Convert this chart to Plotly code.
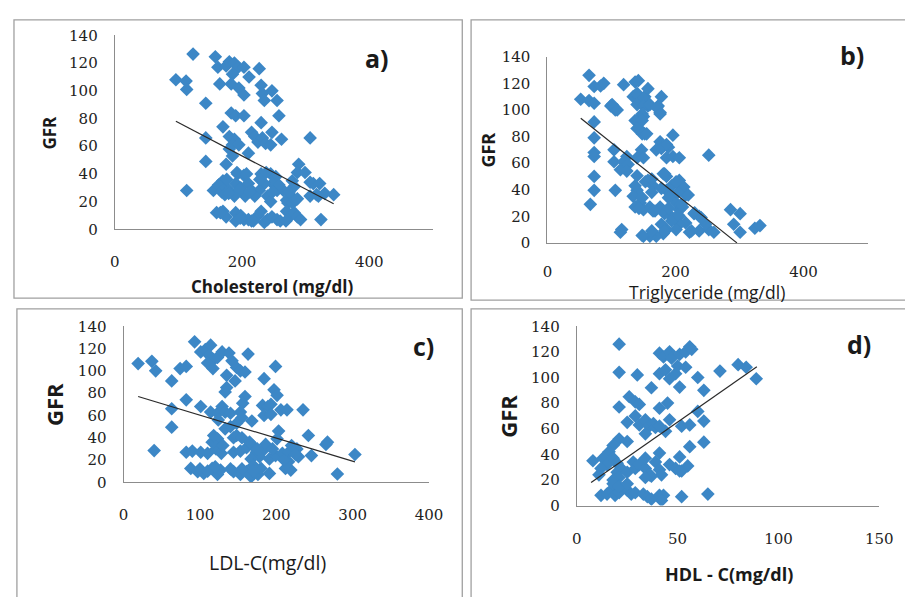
import plotly.graph_objects as go

# ---------------- data ----------------
chol_x = [123,158,162,175,180,188,194,203,211,227,96,112,113,165,185,183,195,203,230,232,235,247,255,143,
          183,190,203,230,247,258,170,143,180,188,185,195,215,220,225,232,237,245,262,307,210,180,185,143,175,
          289,287,193,203,170,113,344,324,307,312,307,317,279,282,277,265,270,272,245,253,248,255,230,235,227,
          240,245,210,215,220,205,190,198,180,188,155,163,168,175,173,160,170,175,190,198,203,210,215,225,230,
          235,240,247,255,260,190,270,277,282,287,292,279,284,197,212,228,238,258,248,274,287,299,322,320,330,
          176,192,207,179,166,197,218,269]
chol_gfr = [126.5,124.6,117,118,121,120,117,117,110,116,108,107,101,105,112,105,102,97,104,98,93,100,93,91,
            84,82,82,77,70,82,74,66,67,65,61,61,70,67,63,66,62,61,65,66,55,58,53,49,47,
            47,41,40,39,35,28,25,7,34,33,24,25,35,31,24,28,21,19,40,38,33,28,40,33,28,
            24,20,33,28,24,24,33,30,28,24,28,32,27,30,25,12,13,9,12,10,7,7,6,10,13,
            5,7,9,7,6,6,13,10,12,9,7,19,21,29,27,36,41,32,27,27,22,41,33,24,26,
            36,41,40,26,12,8,6,6]

trig_x = [65,73,83,88,52,65,73,99,106,73,73,73,73,73,73,67,104,104,106,114,119,137,142,134,142,150,152,157,
          157,150,142,178,173,176,145,152,196,176,170,189,186,196,206,252,147,140,150,124,119,126,124,157,165,
          181,186,206,213,216,186,196,201,206,140,134,145,137,150,160,165,176,183,193,206,211,229,237,216,206,
          201,186,181,170,160,150,114,116,222,237,252,260,247,286,301,291,301,324,332,
          137,153,148,163,178,189,204,209,220,143,168,189,178,194,204,163,148,183,230,240,225,140,163,183,194,201,
          140,150,140,150,160,148,137,148,171,176,101,109,140,148,155,178,186]
trig_gfr = [126,117.6,118,120,108,107,105,103,100,91,79,68,65,50,39.5,29,70,61,39.5,55,119,121,122,110,110,105,110,116,
            103,95,93,110,103,98,85,82,81,76,70,72,64,65,64,66,70,64,64,65,61,59,54,47,43,
            52,50,47,42,36,39.5,35,30,25,39.5,35,30,27,25,27,24,27,22,20,20,27,22,20,15,14,
            10,10,7,5,5,5,8,10,8,9,10,8,14,25,22,14,8,11,13,
            43,46,34,38,41,34,38,29,36,26,24,26,14,16.5,21,9,5.6,9,22.6,19,9,50.5,48,52,43,46,
            112.5,109,104,103,104,97,92,92,101.6,97,104,100,86,82,82,71,74]

ldl_x = [19,37,42,63,63,63,40,74,82,82,101,93,101,107,114,112,118,110,117,123,129,138,142,135,146,148,153,159,
         163,135,133,159,156,153,155,168,114,123,129,133,124,140,133,140,148,144,148,155,184,199,197,201,182,
         189,193,184,193,206,214,235,203,201,242,265,267,303,280,246,82,90,101,110,121,128,123,116,118,144,
         153,161,169,174,182,186,178,191,167,199,208,216,220,227,229,212,219,216,88,97,105,116,123,127,144,
         153,161,167,176,180,191,100,110,120,170,175,165,195,130,225,210,170,155,140]
ldl_gfr = [106.5,108.5,100,91,66,49.5,28.5,102,104,74,68,126,117,119,123,114,110,107,102,112,117,116,109,96,91,103,100,99,
           115,85,81,77,71,63,58,55,63,62,68,63,56,62,48,50,53,40,42,40,93,104,83,78,69,
           68,70,60,61,65,65,65,46,39,42,34,36,25,7.5,24,27,28,27,26,30,26,39,36,42,27,
           28,31,33,27,28,34,23,21,21,24,26,27,33,30,23,12.5,11,18.5,12.5,9.6,8,12.5,7,11,9.6,
           7,9.6,5,7,12.5,8,12,10,14,15,30,36,30,33,25,20,10,12,12]

hdl_x = [21,21,30,21,26,29,31,37,41,45,46,41,43,46,47,51,54,56,57,41,44,46,49,50,54,51,60,63,71,80,84,89,
         60,63,63,52,56,56,51,55,52,65,52,25,29,31,34,36,38,39,34,41,21,25,18,16,8,13,15,12,11,18,20,22,
         20,21,18,25,28,29,31,34,34,36,39,41,42,37,34,41,46,49,51,12,15,17,19,21,25,27,29,33,35,37,41,43,
         42,18,21,25,44]
hdl_gfr = [126,104,102,77,85,81,79,92,76,80,67,119,116,120,115,118,120,124,122,103,106,99,103,109,108,92.5,100,90,105,110,108,99,
           73.5,66,49.5,62,63,46,38,31,27,9,7,65,70,63,67,62,64,61,56,62,52,50,47,42,35,37,32,29,24,37,33,29,
           26,22,20,26,34,29,32,29,37,24,34,28,24,23,22,41,32,29,27,8,9,12,8,10,12,9,10,9,7,5,8,8,
           4,17,15,17,58]

# trend lines (endpoints)
trend_a_x, trend_a_y = [96, 344], [78, 18.4]
trend_b_x, trend_b_y = [52, 296], [93.7, 0]
trend_c_x, trend_c_y = [19, 303], [77, 18.3]
trend_d_x, trend_d_y = [7.1, 89.3], [18, 108.4]

y_ticks = [0, 20, 40, 60, 80, 100, 120, 140]
x_ticks_a = [0, 200, 400]
x_ticks_b = [0, 200, 400]
x_ticks_c = [0, 100, 200, 300, 400]
x_ticks_d = [0, 50, 100, 150]

# ---------------- figure ----------------
# page keeps the browser's default 8px body margin; figure fills the rest
M = 8
W, H = 913 - 2 * M, 605 - 2 * M
def px(x): return (x - M) / W
def py(y): return 1 - (y - M) / H

BLUE = "#3C87C6"
fig = go.Figure()

panels = [
    ("a", chol_x, chol_gfr, trend_a_x, trend_a_y, [0, 500], x_ticks_a, (112, 437), (227, 27), 19),
    ("b", trig_x, trig_gfr, trend_b_x, trend_b_y, [0, 500], x_ticks_b, (554, 881), (241, 49), 15),
    ("c", ldl_x, ldl_gfr, trend_c_x, trend_c_y, [0, 400], x_ticks_c, (121, 433), (488, 327), 19),
    ("d", hdl_x, hdl_gfr, trend_d_x, trend_d_y, [0, 150], x_ticks_d, (584, 893), (512, 327), 19),
]

tickfont = dict(family="DejaVu Serif", size=15, color="#222222")
for i, (name, xs, ys, tx, ty, xr, xt, xd, yd, xtl) in enumerate(panels):
    n = "" if i == 0 else str(i + 1)
    xa, ya = "x" + n, "y" + n
    fig.add_trace(go.Scatter(x=xs, y=ys, mode="markers", xaxis=xa, yaxis=ya,
                             marker=dict(symbol="diamond", size=10.5, color=BLUE, line=dict(width=0)),
                             showlegend=False, hoverinfo="skip"))
    fig.add_trace(go.Scatter(x=tx, y=ty, mode="lines", xaxis=xa, yaxis=ya,
                             line=dict(color="#2a2a2a", width=1.2), showlegend=False, hoverinfo="skip"))
    fig.layout["xaxis" + n] = dict(domain=[px(xd[0]), px(xd[1])], range=xr, anchor=ya,
                                   tickvals=xt, showgrid=False, zeroline=False, showline=True,
                                   linecolor="#8c8c8c", linewidth=1.2, ticks="outside", ticklen=xtl,
                                   tickcolor="rgba(0,0,0,0)", tickfont=tickfont, fixedrange=True)
    fig.layout["yaxis" + n] = dict(domain=[py(yd[0]), py(yd[1])], range=[0, 140], anchor=xa,
                                   tickvals=y_ticks, showgrid=False, zeroline=False, showline=True,
                                   linecolor="#8c8c8c", linewidth=1.2, ticks="outside", ticklen=13,
                                   tickcolor="rgba(0,0,0,0)", tickfont=tickfont, fixedrange=True)

# panel borders
borders = [(9, 467, 11, 298), (476, 930, 11, 300), (12, 467, 309, 630), (476, 930, 309, 630)]
shapes = []
for x0, x1, y0, y1 in borders:
    shapes.append(dict(type="rect", xref="paper", yref="paper", x0=px(x0), x1=px(x1),
                       y0=py(y1), y1=py(y0), line=dict(color="#a0a0a0", width=1.3)))

SANS = "Open Sans"
def ann(text, x, y, size, bold=False, angle=0):
    t = "<b>%s</b>" % text if bold else text
    return dict(text=t, x=px(x), y=py(y), xref="paper", yref="paper", showarrow=False,
                xanchor="center", yanchor="middle", textangle=angle,
                font=dict(family=SANS, size=size, color="#1a1a1a"))

annotations = [
    ann("GFR", 45, 127, 17, True, -90),
    ann("Cholesterol (mg/dl)", 273, 286, 17, True),
    ann("a)", 380, 50, 25, True),
    ann("GFR", 493, 145, 18, True, -90),
    ann("Triglyceride (mg/dl)", 717, 292, 17.5),
    ann("b)", 865, 47, 25, True),
    ann("GFR", 50, 408, 22, True, -90),
    ann("LDL-C(mg/dl)", 268, 571, 19.5),
    ann("c)", 427, 347, 25, True),
    ann("GFR", 514, 420, 22, True, -90),
    ann("HDL - C(mg/dl)", 740, 583, 18, True),
    ann("d)", 872, 345, 25, True),
]

fig.update_layout(width=W, height=H, margin=dict(l=0, r=0, t=0, b=0),
                  paper_bgcolor="white", plot_bgcolor="white",
                  shapes=shapes, annotations=annotations)

fig.write_html("out.html", config={"displayModeBar": False})
